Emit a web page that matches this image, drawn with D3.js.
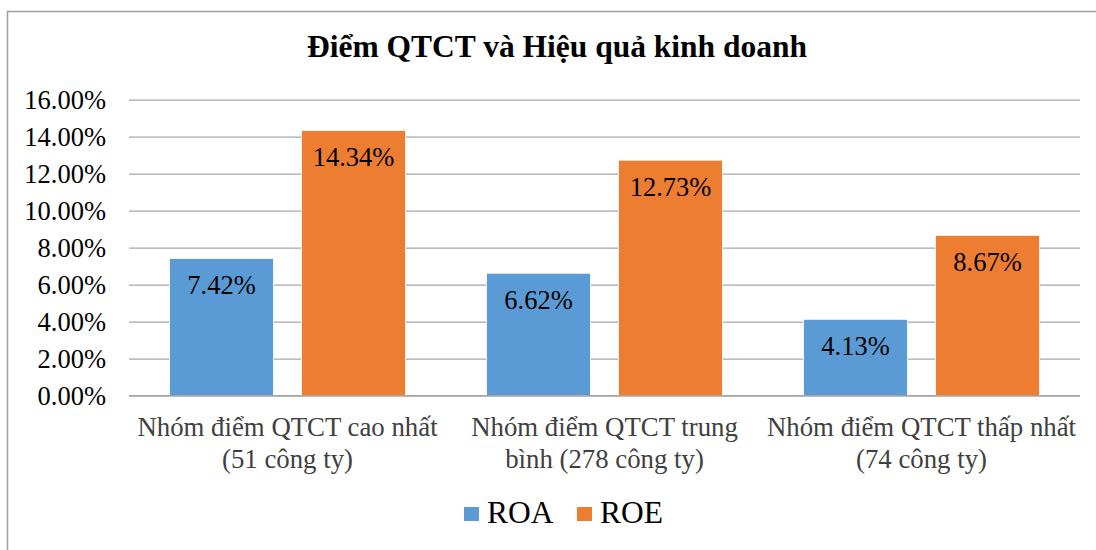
<!DOCTYPE html>
<html>
<head>
<meta charset="utf-8">
<script src="https://cdn.jsdelivr.net/npm/d3@7"></script>
<style>
  body { margin: 0; background: #fff; }
  svg text { font-family: 'Liberation Serif' !important; }
</style>
</head>
<body>
<div id="chart"></div>
<script>
var svgWidth = 1096;
var svgHeight = 550;
var FONT = "Liberation Serif";

// chart data
var categories = ["cao", "tb", "thap"];
var categoryLines = [
    ["Nhóm điểm QTCT cao nhất", "(51 công ty)"],
    ["Nhóm điểm QTCT trung", "bình (278 công ty)"],
    ["Nhóm điểm QTCT thấp nhất", "(74 công ty)"]
];
var seriesNames = ["ROA", "ROE"];
var roaValues = [0.0742, 0.0662, 0.0413];
var roeValues = [0.1434, 0.1273, 0.0867];
var yTicks = [0, 0.02, 0.04, 0.06, 0.08, 0.10, 0.12, 0.14, 0.16];
var colors = ["#5B9BD5", "#ED7D31"];

var margin = { top: 99.7, left: 129, right: 16, bottom: 154.3 };
var chartWidth = svgWidth - margin.left - margin.right;
var chartHeight = svgHeight - margin.top - margin.bottom;

var svg = d3.select("#chart")
    .append("svg")
    .attr("width", svgWidth)
    .attr("height", svgHeight)
    .attr("font-family", FONT);

// outer border
svg.append("rect")
    .attr("x", 7.5).attr("y", 11.5)
    .attr("width", svgWidth).attr("height", svgHeight)
    .attr("fill", "none")
    .attr("stroke", "#a0a0a0")
    .attr("stroke-width", 1.5);

svg.append("text")
    .attr("x", 557)
    .attr("y", 57)
    .attr("text-anchor", "middle")
    .attr("font-size", 31.5)
    .attr("font-weight", "bold")
    .text("Điểm QTCT và Hiệu quả kinh doanh");

var chartGroup = svg.append("g")
    .attr("transform", "translate(" + margin.left + "," + margin.top + ")");

var x0 = d3.scaleBand().domain(categories).range([0, chartWidth]);
var x1 = d3.scaleBand().domain(seriesNames).range([0, x0.bandwidth()])
    .paddingInner(0.2121).paddingOuter(0.3068);
var y = d3.scaleLinear().domain([0, 0.16]).range([chartHeight, 0]);

// gridlines
var grid = chartGroup.append("g")
    .call(d3.axisLeft(y).tickValues(yTicks).tickSize(-chartWidth).tickFormat(""));
grid.select(".domain").remove();
grid.selectAll("line").attr("stroke", "#a6a6a6").attr("stroke-width", 1.3);

// y axis labels
var leftAxis = chartGroup.append("g")
    .call(d3.axisLeft(y).tickValues(yTicks).tickSize(0).tickPadding(23).tickFormat(d3.format(".2%")));
leftAxis.attr("font-family", FONT).attr("font-size", 26.5);
leftAxis.select(".domain").remove();
leftAxis.selectAll("text")
    .attr("fill", "#000")
    .attr("dy", "0.32em");

var rows = categories.map(function (c, i) {
    return { cat: c, values: [roaValues[i], roeValues[i]] };
});

var groups = chartGroup.selectAll(".grp")
    .data(rows)
    .enter()
    .append("g")
    .attr("transform", function (d) { return "translate(" + x0(d.cat) + ",0)"; });

var bars = groups.selectAll("g.bar")
    .data(function (d) {
        return d.values.map(function (v, j) { return { name: seriesNames[j], value: v, idx: j }; });
    })
    .enter()
    .append("g");

bars.append("rect")
    .attr("x", function (d) { return x1(d.name); })
    .attr("y", function (d) { return y(d.value); })
    .attr("width", x1.bandwidth())
    .attr("height", function (d) { return chartHeight - y(d.value); })
    .attr("fill", function (d) { return colors[d.idx]; })
    .attr("stroke", "#fff")
    .attr("stroke-width", 0.8);

bars.append("text")
    .attr("x", function (d) { return x1(d.name) + x1.bandwidth() / 2; })
    .attr("y", function (d) { return y(d.value) + 35.5; })
    .attr("text-anchor", "middle")
    .attr("font-size", 26.5)
    .attr("fill", "#000")
    .text(function (d) { return d3.format(".2%")(d.value); });

// baseline
chartGroup.append("line")
    .attr("x1", 0).attr("x2", chartWidth)
    .attr("y1", y(0)).attr("y2", y(0))
    .attr("stroke", "#a6a6a6").attr("stroke-width", 1.3);

// category labels
groups.each(function (d, i) {
    var t = d3.select(this).append("text")
        .attr("x", x0.bandwidth() / 2)
        .attr("y", chartHeight + 40)
        .attr("text-anchor", "middle")
        .attr("font-size", 26.8)
        .attr("fill", "#404040");
    categoryLines[i].forEach(function (line, k) {
        t.append("tspan")
            .attr("x", x0.bandwidth() / 2)
            .attr("dy", k === 0 ? 0 : 32)
            .text(line);
    });
});

// legend
var legendX = [464, 577];
var legend = svg.selectAll(".legend")
    .data(seriesNames)
    .enter()
    .append("g")
    .attr("transform", function (d, i) { return "translate(" + legendX[i] + ",507)"; });

legend.append("rect")
    .attr("width", 15).attr("height", 14)
    .attr("fill", function (d, i) { return colors[i]; });

legend.append("text")
    .attr("x", 23)
    .attr("y", 16)
    .attr("font-size", 31.5)
    .attr("fill", "#000")
    .text(function (d) { return d; });
</script>
</body>
</html>
